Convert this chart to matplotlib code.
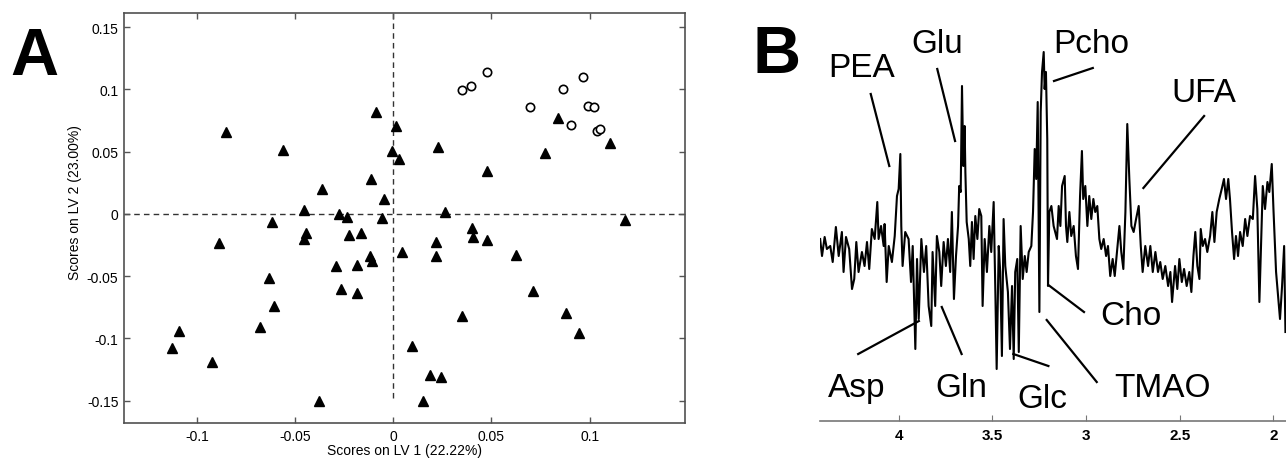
import matplotlib
import matplotlib.pyplot as plt

matplotlib.use("Agg")

plt.rcParams["font.family"] = ["Liberation Sans", "DejaVu Sans"]

# panel A: PLS-DA scores
lv1_tri = [-0.0853, -0.0563, -0.0361, -0.0453, -0.0275, -0.0237, -0.0616, -0.0088, 0.0012, -0.0008,
           0.0031, -0.0114, -0.0047, -0.0056, -0.0886, -0.0444, -0.0453, -0.0226, -0.0164, 0.0043,
           -0.0119, -0.0107, -0.0290, -0.0185, -0.0631, -0.0268, -0.0185, -0.0607, -0.0679, -0.1091,
           -0.1125, -0.0923, 0.0094, -0.0378, 0.0228, 0.0479, 0.0774, 0.0840, 0.1102, 0.0265,
           0.1178, 0.0401, 0.0407, 0.0477, 0.0217, 0.0219, 0.0626, 0.0711, 0.0350, 0.0878,
           0.0946, 0.0151, 0.0187, 0.0244]
lv2_tri = [0.0656, 0.0517, 0.0201, 0.0032, 0.0000, -0.0027, -0.0064, 0.0817, 0.0710, 0.0506,
           0.0442, 0.0279, 0.0118, -0.0035, -0.0235, -0.0155, -0.0201, -0.0169, -0.0150, -0.0303,
           -0.0337, -0.0375, -0.0415, -0.0407, -0.0517, -0.0600, -0.0632, -0.0739, -0.0905, -0.0942,
           -0.1079, -0.1186, -0.1060, -0.1502, 0.0536, 0.0343, 0.0487, 0.0774, 0.0568, 0.0014,
           -0.0046, -0.0115, -0.0185, -0.0211, -0.0227, -0.0337, -0.0329, -0.0621, -0.0819, -0.0793,
           -0.0953, -0.1505, -0.1291, -0.1312]
lv1_circ = [0.0351, 0.0394, 0.0477, 0.0694, 0.0864, 0.0966, 0.0903, 0.0993, 0.1022, 0.1035, 0.1054]
lv2_circ = [0.0998, 0.1028, 0.1143, 0.0857, 0.1001, 0.1098, 0.0712, 0.0870, 0.0862, 0.0664, 0.0685]

a_xticks = [-0.1, -0.05, 0, 0.05, 0.1]
a_xlabels = ["-0.1", "-0.05", "0", "0.05", "0.1"]
a_yticks = [-0.15, -0.1, -0.05, 0, 0.05, 0.1, 0.15]
a_ylabels = ["-0.15", "-0.1", "-0.05", "0", "0.05", "0.1", "0.15"]

# panel B: loadings spectrum (ppm, a.u.)
spec_ppm = [4.419, 4.409, 4.395, 4.383, 4.365, 4.352, 4.335, 4.320, 4.303, 4.294,
            4.281, 4.264, 4.249, 4.237, 4.226, 4.214, 4.196, 4.182, 4.169, 4.157,
            4.143, 4.128, 4.114, 4.107, 4.094, 4.080, 4.075, 4.064, 4.053, 4.036,
            4.021, 4.009, 4.000, 3.991, 3.986, 3.979, 3.965, 3.947, 3.934, 3.925,
            3.911, 3.902, 3.893, 3.879, 3.865, 3.853, 3.840, 3.826, 3.819, 3.805,
            3.796, 3.783, 3.773, 3.760, 3.748, 3.737, 3.725, 3.716, 3.705, 3.694,
            3.683, 3.677, 3.669, 3.662, 3.655, 3.648, 3.644, 3.637, 3.626, 3.618,
            3.609, 3.600, 3.591, 3.580, 3.570, 3.559, 3.552, 3.541, 3.529, 3.516,
            3.506, 3.493, 3.484, 3.477, 3.466, 3.458, 3.449, 3.440, 3.431, 3.417,
            3.406, 3.395, 3.386, 3.378, 3.367, 3.359, 3.349, 3.338, 3.327, 3.317,
            3.306, 3.292, 3.283, 3.274, 3.266, 3.258, 3.249, 3.242, 3.235, 3.226,
            3.221, 3.214, 3.207, 3.203, 3.196, 3.185, 3.173, 3.155, 3.146, 3.137,
            3.128, 3.114, 3.107, 3.100, 3.089, 3.079, 3.066, 3.054, 3.043, 3.032,
            3.022, 3.015, 3.004, 2.993, 2.983, 2.972, 2.961, 2.951, 2.940, 2.929,
            2.919, 2.906, 2.893, 2.883, 2.871, 2.858, 2.847, 2.835, 2.822, 2.812,
            2.801, 2.790, 2.780, 2.769, 2.758, 2.746, 2.733, 2.719, 2.708, 2.698,
            2.684, 2.669, 2.657, 2.644, 2.630, 2.616, 2.604, 2.591, 2.577, 2.562,
            2.550, 2.541, 2.525, 2.513, 2.502, 2.489, 2.477, 2.463, 2.449, 2.438,
            2.427, 2.417, 2.406, 2.395, 2.388, 2.377, 2.365, 2.353, 2.338, 2.326,
            2.315, 2.303, 2.289, 2.276, 2.264, 2.253, 2.241, 2.232, 2.221, 2.210,
            2.200, 2.189, 2.178, 2.164, 2.151, 2.139, 2.125, 2.110, 2.098, 2.086,
            2.075, 2.068, 2.057, 2.045, 2.032, 2.022, 2.009, 2.000, 1.986, 1.974,
            1.965, 1.954, 1.943, 1.936]
spec_int = [60, 43, 62, 50, 53, 37, 72, 43, 67, 27,
            62, 50, 10, 20, 57, 27, 47, 33, 57, 30,
            70, 60, 97, 60, 73, 53, 75, 17, 53, 37,
            63, 103, 110, 145, 73, 33, 67, 60, 17, 53,
            -50, 40, -20, 60, 27, 53, -7, -27, 47, -7,
            63, 47, 13, 57, 33, 60, 27, 87, 0, 43,
            73, 113, 107, 213, 133, 173, 127, 77, 60, 33,
            77, 40, 83, 60, 90, 83, -7, 60, 27, 73,
            47, 97, 7, -70, 53, 27, -57, 80, 33, 7,
            -50, 13, -60, 27, 40, -53, 73, 20, 43, 27,
            47, 53, 87, 150, 120, 197, -13, 187, 227, 247,
            210, 227, 160, 13, 87, 93, 73, 60, 93, 73,
            113, 123, 73, 57, 87, 63, 73, 43, 30, 103,
            148, 100, 113, 73, 103, 80, 100, 87, 93, 60,
            50, 60, 43, 53, 23, 40, 23, 47, 73, 47,
            30, 87, 175, 120, 73, 67, 80, 93, 53, 27,
            53, 33, 53, 27, 47, 27, 37, 20, 33, 13,
            27, -3, 33, 10, 40, 17, 30, 13, 27, 7,
            43, 67, 33, 20, 70, 53, 60, 47, 63, 87,
            57, 87, 100, 110, 120, 100, 120, 100, 67, 40,
            63, 43, 67, 53, 80, 63, 83, 80, 123, 90,
            -3, 43, 113, 90, 117, 107, 135, 90, 27, 0,
            -20, 13, 53, -33]

b_ticks = [4, 3.5, 3, 2.5, 2]
b_ticklabels = ["4", "3.5", "3", "2.5", "2"]

# label, text (ppm, int baseline), leader start, leader end
peak_labels = ["PEA", "Glu", "Pcho", "UFA", "Cho", "TMAO", "Glc", "Gln", "Asp"]
label_pos = [(4.196, 223), (3.796, 247), (2.974, 247), (2.370, 198), (2.760, -25),
             (2.594, -97), (3.235, -108), (3.667, -97), (4.223, -97)]
leader_a = [(4.149, 205), (3.794, 230), (3.171, 218), (2.694, 111), (3.201, 14),
            (3.210, -21), (3.388, -55), (3.770, -8), (4.216, -55)]
leader_b = [(4.050, 133), (3.699, 158), (2.964, 231), (2.370, 183), (3.011, -13),
            (2.943, -83), (3.201, -67), (3.664, -55), (3.892, -22)]


fig = plt.figure(figsize=(12.86, 4.6), dpi=100)

# ---- A ----
ax = fig.add_axes([0.0964, 0.0783, 0.4362, 0.8913])
ax.axhline(0, color="#333333", lw=1, ls=(0, (4, 3)), zorder=1)
ax.vlines(0, -0.148, 0.1614, color="#333333", lw=1, linestyles=[(0, (4, 3))], zorder=1)
ax.plot(lv1_tri, lv2_tri, ls="none", marker="^", ms=7, color="black", zorder=3)
ax.plot(lv1_circ, lv2_circ, ls="none", marker="o", ms=6, mfc="white", mec="black",
        mew=1.2, zorder=3)
ax.set_xlim(-0.1371, 0.1485)
ax.set_ylim(-0.1679, 0.1614)
ax.set_xticks(a_xticks)
ax.set_xticklabels(a_xlabels)
ax.set_yticks(a_yticks)
ax.set_yticklabels(a_ylabels)
ax.tick_params(direction="in", length=4, width=1, color="#555555", labelsize=10,
               top=True, right=True, pad=4)
for sp in ax.spines.values():
    sp.set_color("#505050")
    sp.set_linewidth(1.2)
ax.set_xlabel("Scores on LV 1 (22.22%)", fontsize=10, labelpad=0)
ax.set_ylabel("Scores on LV 2 (23.00%)", fontsize=10)
ax.yaxis.set_label_coords(-0.074, 0.54)

fig.text(0.0078, 0.837, "A", fontsize=48, fontweight="bold", ha="left", va="baseline")

# ---- B ----
bx = fig.add_axes([0.6376, 0.0826, 0.3624, 0.9174])
bx.plot(spec_ppm, spec_int, color="black", lw=1.5)
bx.set_xlim(4.420, 1.933)
bx.set_ylim(-122, 300)
for side in ["left", "right", "top"]:
    bx.spines[side].set_visible(False)
bx.spines["bottom"].set_color("#777777")
bx.spines["bottom"].set_linewidth(1.2)
bx.set_yticks([])
bx.set_xticks(b_ticks)
bx.set_xticklabels(b_ticklabels, fontweight="bold")
bx.tick_params(axis="x", direction="in", length=4, color="#777777", labelsize=11, pad=5)

for name, pos, p0, p1 in zip(peak_labels, label_pos, leader_a, leader_b):
    bx.text(pos[0], pos[1], name, fontsize=24, ha="center", va="baseline", clip_on=False)
    bx.plot([p0[0], p1[0]], [p0[1], p1[1]], color="black", lw=1.6, clip_on=False)

fig.text(0.585, 0.841, "B", fontsize=48, fontweight="bold", ha="left", va="baseline")

fig.savefig("out.png", dpi=100)
